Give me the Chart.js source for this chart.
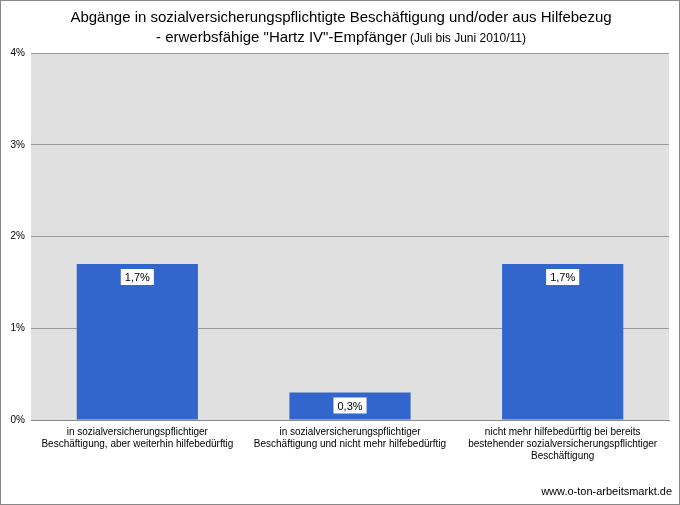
<!DOCTYPE html>
<html><head><meta charset="utf-8">
<script src="https://cdn.jsdelivr.net/npm/chart.js@4"></script>
<style>html,body{margin:0;padding:0;background:#fff}#w{position:relative;width:678px;height:503px;border:1px solid #888}</style>
</head><body><div id="w"><canvas id="c" width="678" height="503"></canvas></div>
<script>
const categories=[["in sozialversicherungspflichtiger","Beschäftigung, aber weiterhin hilfebedürftig"],["in sozialversicherungspflichtiger","Beschäftigung und nicht mehr hilfebedürftig"],["nicht mehr hilfebedürftig bei bereits","bestehender sozialversicherungspflichtiger","Beschäftigung"]];
const values=[1.7,0.3,1.7];
const valueLabels=["1,7%","0,3%","1,7%"];
const yTicks=[0,1,2,3,4];
const F='"Liberation Sans", Arial, sans-serif';
const deco={id:'deco',
 beforeDraw(ch){const {ctx,chartArea:a}=ch;ctx.save();ctx.fillStyle='#e0e0e0';ctx.fillRect(a.left,a.top,a.right-a.left,a.bottom-a.top);ctx.restore();},
 afterDraw(ch){const ctx=ch.ctx;ctx.save();ctx.fillStyle='#000';ctx.textAlign='center';ctx.textBaseline='alphabetic';
  ctx.font='15px '+F;ctx.fillText('Abgänge in sozialversicherungspflichtigte Beschäftigung und/oder aus Hilfebezug',340,21);
  const p1='- erwerbsfähige "Hartz IV"-Empfänger',p2=' (Juli bis Juni 2010/11)';
  ctx.font='15px '+F;const w1=ctx.measureText(p1).width;ctx.font='12px '+F;const w2=ctx.measureText(p2).width;
  let x=340-(w1+w2)/2;ctx.textAlign='left';ctx.font='15px '+F;ctx.fillText(p1,x,41);ctx.font='12px '+F;ctx.fillText(p2,x+w1,41);
  ctx.font='11px '+F;ctx.textAlign='right';ctx.fillText('www.o-ton-arbeitsmarkt.de',671,494);
  const meta=ch.getDatasetMeta(0);ctx.textAlign='center';ctx.textBaseline='middle';ctx.font='11px '+F;
  meta.data.forEach((b,i)=>{const t=valueLabels[i];const w=ctx.measureText(t).width+8;const y=b.y+13;
   ctx.fillStyle='#fff';ctx.fillRect(b.x-w/2,y-8,w,16);ctx.fillStyle='#000';ctx.fillText(t,b.x,y+1);});
  ctx.restore();}};
new Chart(document.getElementById('c'),{type:'bar',
 data:{labels:categories,datasets:[{data:values,backgroundColor:'#3366cc',borderWidth:0,categoryPercentage:0.57,barPercentage:1}]},
 options:{responsive:false,animation:false,devicePixelRatio:1,
  layout:{padding:{top:52,right:10,left:0,bottom:0}},
  plugins:{legend:{display:false},tooltip:{enabled:false}},
  scales:{
   y:{min:0,max:4,afterBuildTicks(s){s.ticks=yTicks.map(v=>({value:v}));},afterFit(s){s.width=30;},
    ticks:{callback:v=>v+'%',font:{size:10,family:F},color:'#000',padding:6},
    grid:{color:'#999',drawTicks:false,lineWidth:1},border:{display:false}},
   x:{grid:{display:false},border:{color:'#888'},afterFit(s){s.height=84;},
    ticks:{font:{size:10,family:F},color:'#000',maxRotation:0,autoSkip:false,padding:-2}}}},
 plugins:[deco]});
</script>
</body></html>
